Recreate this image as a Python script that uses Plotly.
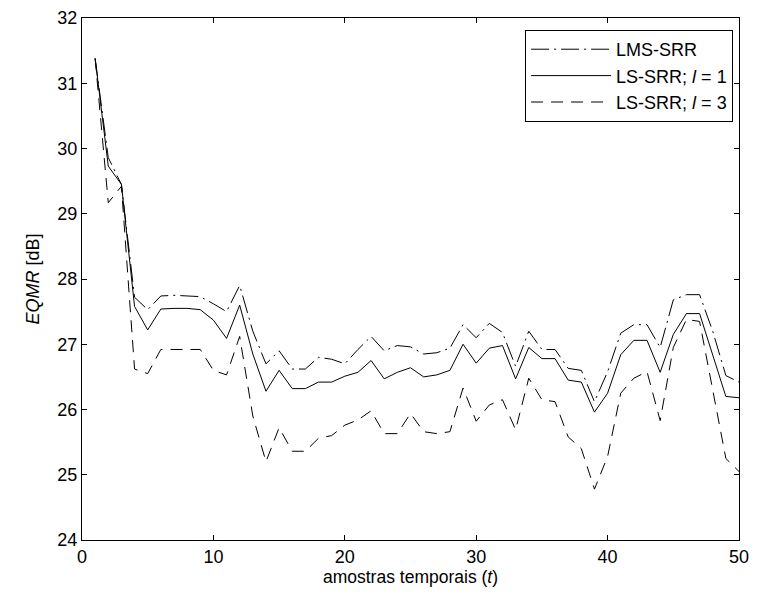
import plotly.graph_objects as go

# amostras temporais
t = list(range(1, 51))

# EQMR [dB]
lms_srr = [31.38, 29.86, 29.45, 27.72, 27.53, 27.74, 27.75, 27.74, 27.73, 27.62,
           27.50, 27.90, 27.20, 26.70, 26.90, 26.62, 26.62, 26.80, 26.77, 26.70,
           26.92, 27.12, 26.90, 26.98, 26.96, 26.85, 26.87, 26.94, 27.30, 27.10,
           27.32, 27.18, 26.66, 27.20, 26.92, 26.92, 26.63, 26.60, 26.12, 26.58,
           27.17, 27.30, 27.30, 26.95, 27.68, 27.76, 27.76, 27.20, 26.52, 26.42]

ls_srr_1 = [31.38, 29.73, 29.45, 27.58, 27.22, 27.54, 27.55, 27.55, 27.53, 27.37,
            27.09, 27.60, 26.85, 26.28, 26.60, 26.32, 26.32, 26.42, 26.42, 26.51,
            26.57, 26.75, 26.47, 26.57, 26.64, 26.50, 26.53, 26.60, 27.00, 26.71,
            26.94, 26.98, 26.47, 26.95, 26.78, 26.78, 26.45, 26.42, 25.96, 26.25,
            26.84, 27.06, 27.06, 26.57, 27.15, 27.47, 27.47, 26.84, 26.20, 26.18]

ls_srr_3 = [31.38, 29.17, 29.42, 26.62, 26.55, 26.92, 26.92, 26.92, 26.92, 26.60,
            26.53, 27.12, 25.90, 25.20, 25.72, 25.36, 25.36, 25.56, 25.60, 25.76,
            25.84, 25.98, 25.63, 25.63, 25.94, 25.66, 25.63, 25.66, 26.33, 25.82,
            26.07, 26.15, 25.69, 26.48, 26.15, 26.12, 25.58, 25.40, 24.78, 25.28,
            26.25, 26.48, 26.58, 25.83, 26.95, 27.38, 27.35, 26.30, 25.25, 25.05]

fnt = "Arial, Liberation Sans, sans-serif"

fig = go.Figure()
fig.add_trace(go.Scatter(x=t, y=lms_srr, mode="lines", name="LMS-SRR",
                         line=dict(color="black", width=1, dash="18px,5px,2px,5px")))
fig.add_trace(go.Scatter(x=t, y=ls_srr_1, mode="lines", name="LS-SRR; <i>l</i> = 1",
                         line=dict(color="black", width=1)))
fig.add_trace(go.Scatter(x=t, y=ls_srr_3, mode="lines", name="LS-SRR; <i>l</i> = 3",
                         line=dict(color="black", width=1, dash="12px,8px")))

axis_style = dict(showgrid=False, zeroline=False, showline=True, linecolor="black",
                  linewidth=1, mirror="ticks", ticks="inside", ticklen=5,
                  tickcolor="black", automargin=False,
                  tickfont=dict(family=fnt, size=18, color="black"))

fig.update_xaxes(range=[0, 50], dtick=10, tick0=0,
                 title=dict(text="amostras temporais (<i>t</i>)", standoff=4,
                            font=dict(family=fnt, size=17.5, color="black")),
                 **axis_style)
fig.update_yaxes(range=[24, 32], dtick=1, tick0=24,
                 title=dict(text="<i>EQMR</i> [dB]", standoff=13,
                            font=dict(family=fnt, size=18, color="black")),
                 **axis_style)

# a pagina tem 8px de margem no body -> figura um pouco menor
fig.update_layout(
    width=749, height=593,
    margin=dict(l=74, r=18, t=10, b=61),
    paper_bgcolor="white", plot_bgcolor="white",
    font=dict(family=fnt, size=18, color="black"),
    legend=dict(x=0.991, y=0.977, xanchor="right", yanchor="top",
                bgcolor="white", bordercolor="black", borderwidth=1,
                itemwidth=80, tracegroupgap=0,
                font=dict(family=fnt, size=18, color="black")),
)

fig.write_html("out.html")
